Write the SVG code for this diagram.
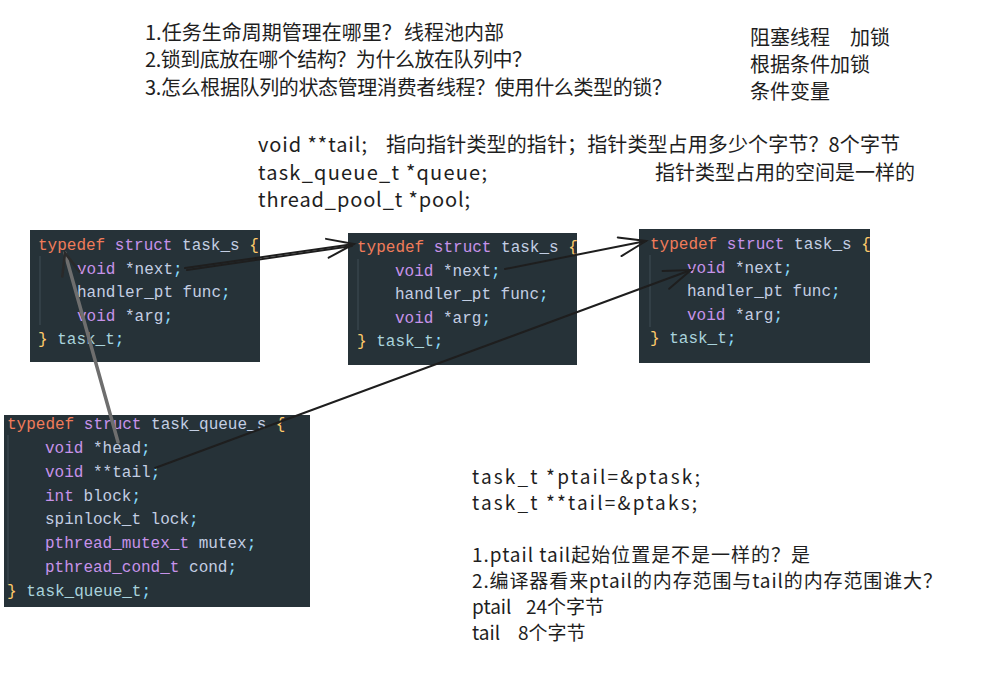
<svg xmlns="http://www.w3.org/2000/svg" width="996" height="673" viewBox="0 0 996 673">
<style>
.code{font-family:"Liberation Mono","DejaVu Sans Mono",monospace;font-size:16px;fill:#c3cee3}
.td{fill:#f07c5a}.kw{fill:#c792ea}.id{fill:#c3cee3}.pu{fill:#89ddff}.br{fill:#ffcb6b}.ty{fill:#a9d3dc}
.note{font-family:"Noto Sans CJK SC","Liberation Sans",sans-serif;font-size:20px;fill:#1e1e1e}
.sm{font-size:19px}
.box{fill:#263238}
.guide{stroke:#3e4d55;stroke-width:1}
.arr{fill:none;stroke:#1e1e1e;stroke-width:2;stroke-linecap:round}
.gray{stroke:#6e6e6e;stroke-width:3.5}
</style>
<defs>
<marker id="ah" markerUnits="userSpaceOnUse" viewBox="-30 -15 32 30" refX="0" refY="0" markerWidth="32" markerHeight="30" orient="auto" overflow="visible">
<path d="M-27,-9 L0,0 L-27,10" fill="none" stroke="#1e1e1e" stroke-width="2" stroke-linecap="round"/>
</marker>
<marker id="ahg" markerUnits="userSpaceOnUse" viewBox="-30 -15 32 30" refX="0" refY="0" markerWidth="32" markerHeight="30" orient="auto" overflow="visible">
<path d="M-22,-9 L0,0 L-22,9" fill="none" stroke="#2a2a2a" stroke-width="2.5" stroke-linecap="round"/>
</marker>
</defs>
<rect width="996" height="673" fill="#ffffff"/>

<g id="notes-top">
<text class="note" x="145" y="40">1.任务生命周期管理在哪里？</text>
<text class="note" x="404" y="40">线程池内部</text>
<text class="note" x="145" y="67" textLength="387" lengthAdjust="spacing">2.锁到底放在哪个结构？为什么放在队列中？</text>
<text class="note" x="145" y="95" textLength="527" lengthAdjust="spacing">3.怎么根据队列的状态管理消费者线程？使用什么类型的锁？</text>
</g>
<g id="notes-right">
<text class="note" x="750" y="45">阻塞线程</text>
<text class="note" x="850" y="45">加锁</text>
<text class="note" x="750" y="72">根据条件加锁</text>
<text class="note" x="750" y="99">条件变量</text>
</g>
<g id="notes-mid">
<text class="note" x="258" y="152" textLength="109" lengthAdjust="spacing">void **tail;</text>
<text class="note" x="386" y="152" textLength="514" lengthAdjust="spacing">指向指针类型的指针；指针类型占用多少个字节？8个字节</text>
<text class="note" x="258" y="180" textLength="229" lengthAdjust="spacing">task_queue_t *queue;</text>
<text class="note" x="655" y="180">指针类型占用的空间是一样的</text>
<text class="note" x="258" y="207" textLength="212" lengthAdjust="spacing">thread_pool_t *pool;</text>
</g>
<g id="notes-bottom">
<text class="note sm" x="472" y="484" textLength="228" lengthAdjust="spacing">task_t *ptail=&amp;ptask;</text>
<text class="note sm" x="472" y="510" textLength="225" lengthAdjust="spacing">task_t **tail=&amp;ptaks;</text>
<text class="note sm" x="472" y="562" textLength="338" lengthAdjust="spacing">1.ptail tail起始位置是不是一样的？是</text>
<text class="note sm" x="472" y="588" textLength="470" lengthAdjust="spacing">2.编译器看来ptail的内存范围与tail的内存范围谁大？</text>
<text class="note sm" x="472" y="614">ptail</text>
<text class="note sm" x="526" y="614">24个字节</text>
<text class="note sm" x="472" y="640">tail</text>
<text class="note sm" x="518" y="640">8个字节</text>
</g>

<g id="task1">
<rect class="box" x="30" y="230" width="230" height="132"/>
<line class="guide" x1="40" y1="256" x2="40" y2="325"/>
<text class="code" x="38" y="250"><tspan class="td">typedef</tspan><tspan class="kw"> struct</tspan><tspan class="id"> task_s</tspan><tspan class="br"> {</tspan></text>
<text class="code" x="77" y="273.5"><tspan class="kw">void</tspan><tspan class="id"> *next</tspan><tspan class="pu">;</tspan></text>
<text class="code" x="77" y="297"><tspan class="id">handler_pt func</tspan><tspan class="pu">;</tspan></text>
<text class="code" x="77" y="320.5"><tspan class="kw">void</tspan><tspan class="id"> *arg</tspan><tspan class="pu">;</tspan></text>
<text class="code" x="38" y="344"><tspan class="br">}</tspan><tspan class="ty"> task_t</tspan><tspan class="pu">;</tspan></text>
</g>

<g id="task2">
<rect class="box" x="348" y="233" width="229" height="132"/>
<line class="guide" x1="358" y1="259" x2="358" y2="330"/>
<text class="code" x="357" y="252"><tspan class="td">typedef</tspan><tspan class="kw"> struct</tspan><tspan class="id"> task_s</tspan><tspan class="br"> {</tspan></text>
<text class="code" x="395" y="275.5"><tspan class="kw">void</tspan><tspan class="id"> *next</tspan><tspan class="pu">;</tspan></text>
<text class="code" x="395" y="299"><tspan class="id">handler_pt func</tspan><tspan class="pu">;</tspan></text>
<text class="code" x="395" y="322.5"><tspan class="kw">void</tspan><tspan class="id"> *arg</tspan><tspan class="pu">;</tspan></text>
<text class="code" x="357" y="346"><tspan class="br">}</tspan><tspan class="ty"> task_t</tspan><tspan class="pu">;</tspan></text>
</g>

<g id="task3">
<rect class="box" x="639" y="229" width="231" height="134"/>
<line class="guide" x1="650" y1="255" x2="650" y2="327"/>
<text class="code" x="650" y="249"><tspan class="td">typedef</tspan><tspan class="kw"> struct</tspan><tspan class="id"> task_s</tspan><tspan class="br"> {</tspan></text>
<text class="code" x="687" y="272.5"><tspan class="kw">void</tspan><tspan class="id"> *next</tspan><tspan class="pu">;</tspan></text>
<text class="code" x="687" y="296"><tspan class="id">handler_pt func</tspan><tspan class="pu">;</tspan></text>
<text class="code" x="687" y="319.5"><tspan class="kw">void</tspan><tspan class="id"> *arg</tspan><tspan class="pu">;</tspan></text>
<text class="code" x="650" y="343"><tspan class="br">}</tspan><tspan class="ty"> task_t</tspan><tspan class="pu">;</tspan></text>
</g>

<g id="task_queue">
<rect class="box" x="4" y="415" width="306" height="192"/>
<line class="guide" x1="8" y1="435" x2="8" y2="585"/>
<text class="code" x="7" y="429"><tspan class="td">typedef</tspan><tspan class="kw"> struct</tspan><tspan class="id"> task_queue_s</tspan><tspan class="br"> {</tspan></text>
<text class="code" x="45" y="453"><tspan class="kw">void</tspan><tspan class="id"> *head</tspan><tspan class="pu">;</tspan></text>
<text class="code" x="45" y="477"><tspan class="kw">void</tspan><tspan class="id"> **tail</tspan><tspan class="pu">;</tspan></text>
<text class="code" x="45" y="500.5"><tspan class="kw">int</tspan><tspan class="id"> block</tspan><tspan class="pu">;</tspan></text>
<text class="code" x="45" y="524"><tspan class="id">spinlock_t lock</tspan><tspan class="pu">;</tspan></text>
<text class="code" x="45" y="548"><tspan class="kw">pthread_mutex_t</tspan><tspan class="id"> mutex</tspan><tspan class="pu">;</tspan></text>
<text class="code" x="45" y="572"><tspan class="kw">pthread_cond_t</tspan><tspan class="id"> cond</tspan><tspan class="pu">;</tspan></text>
<text class="code" x="7" y="596"><tspan class="br">}</tspan><tspan class="ty"> task_queue_t</tspan><tspan class="pu">;</tspan></text>
</g>

<g id="connectors">
<path class="arr" d="M185,268 L354,244" stroke-width="2.5" marker-end="url(#ah)"/>
<path class="arr" d="M187,270 L352,246" stroke-width="1.2"/>
<path class="arr" d="M505,269 L646,241" marker-end="url(#ah)"/>
<path class="arr" d="M155,468 L691,270" marker-end="url(#ah)"/>
<path class="arr gray" d="M118,442 L65,253" marker-end="url(#ahg)"/>
</g>
</svg>
